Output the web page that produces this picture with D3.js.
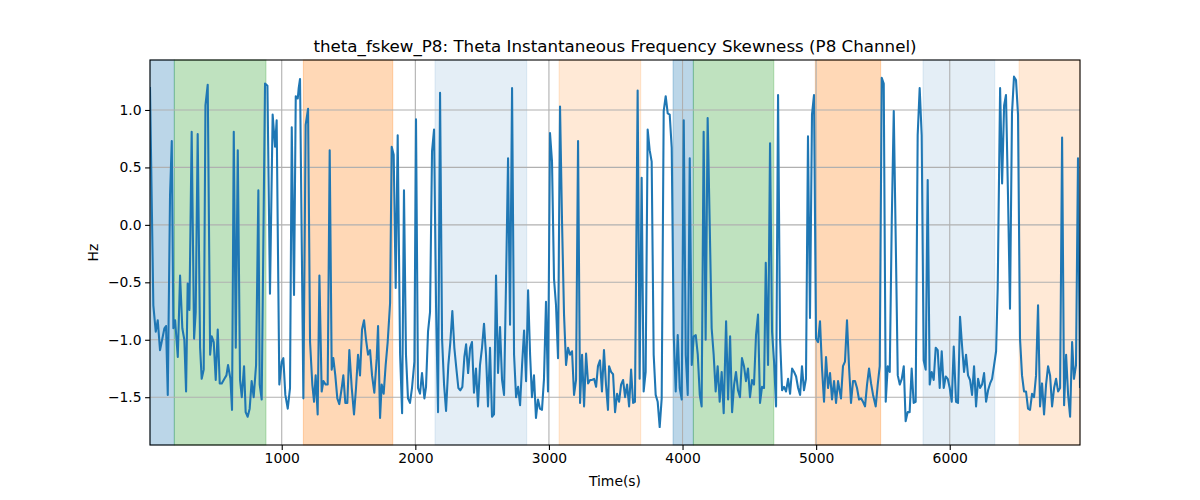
<!DOCTYPE html>
<html><head><meta charset="utf-8">
<script src="https://cdn.jsdelivr.net/npm/d3@7"></script>
<style>body{margin:0;background:#fff;} text{font-family:"DejaVu Sans",sans-serif;}</style>
</head><body>
<svg id="c" width="1200" height="500"></svg>
<script>
const times = [14,39,57,72,89,122,134,147,164,177,189,202,222,239,256,271,284,296,309,326,344,356,371,389,401,416,429,446,464,476,491,506,521,536,551,571,586,598,616,628,641,656,671,688,701,718,730,745,760,775,790,808,825,835,850,
875,893,912,932,950,962,982,1000,1012,1027,1045,1062,1075,1092,1105,1120,1127,1137,1162,1179,1197,1212,1229,1242,1254,1269,1282,1299,1312,1329,1344,1359,1374,1386,1401,1416,1431,1449,1461,1476,1491,1506,1524,1541,1556,1571,1586,1601,1616,1631,1646,1661,1676,1693,1711,1721,1736,
1748,1763,1778,1793,1811,1823,1838,1853,1868,1886,1901,1915,1930,1945,1960,1975,1993,2005,2020,2035,2050,2068,2080,2095,2110,2125,2140,2155,2170,2185,2200,2215,2230,2247,2262,2277,2292,2307,2322,2337,2352,2367,2380,2395,2410,2424,2439,2454,2469,2484,2499,2514,2529,2544,2559,2574,2589,
2604,2619,2634,2649,2664,2679,2694,2709,2724,2739,2754,2769,2784,2799,2814,2829,2844,2859,2873,2888,2903,2918,2933,2948,2963,2978,2993,3008,3023,3038,3053,3068,3083,3098,3113,3128,3143,3158,3173,3188,3203,3218,3233,3248,3263,3278,3293,3308,3323,3338,3353,3367,3382,3397,3412,3427,3442,
3450,3465,3480,3495,3510,3525,3540,3555,3570,3585,3600,3615,3630,3644,3664,3679,3694,3709,3724,3739,3754,3769,3784,3799,3814,3829,3844,3859,3874,3889,3904,3919,3934,3949,3964,3979,3994,4009,4024,4039,4054,4069,4084,4099,4114,4129,4143,4158,4173,4188,4203,4218,4233,4248,4263,4278,4293,4308,
4326,4341,4356,4371,4386,4400,4415,4430,4445,4460,4475,4490,4505,4520,4535,4550,4565,4580,4595,4610,4623,4640,4655,4670,4685,4700,4715,4730,4745,4760,4775,4790,4805,4820,4835,4850,4865,4880,4894,4909,4924,4939,4954,4969,4984,4999,5014,5029,5044,5059,5074,5089,5104,5119,5134,5149,5164,
5186,5201,5216,5231,5246,5261,5276,5291,5306,5321,5336,5351,5366,5381,5396,5411,5426,5446,5461,5476,5491,5506,5521,5536,5551,5566,5581,5596,5611,5626,5641,5656,5670,5685,5700,5715,5730,5745,5760,5775,5790,5805,5820,5835,5850,5865,5880,5895,5910,5925,5940,5955,5970,5985,6000,6015,6030,
6047,6062,6077,6092,6107,6122,6137,6152,6167,6182,6197,6212,6227,6242,6257,6272,6287,6302,6317,6332,6347,6359,6377,6392,6407,6421,6436,6451,6466,6481,6496,6511,6526,6541,6556,6571,6586,6601,6616,6631,6646,6661,6676,6691,6706,6721,6736,6751,6766,6781,6796,6811,6826,6841,6856,6871,6886,6901,6916,6930,6945,6960,6975];
const values = [1.19,-0.70,-0.93,-0.83,-1.09,-0.90,-0.88,-1.48,0.26,0.73,-0.90,-0.83,-1.15,-0.44,-0.90,-1.00,-1.45,-0.51,-0.74,0.81,-0.99,-0.76,0.79,-1.07,-1.34,-1.26,1.04,1.22,-1.13,-0.97,-1.02,-1.35,-0.91,-1.38,-1.38,-1.34,-1.31,-1.22,-1.34,-1.61,0.81,-1.07,0.65,-1.35,-1.50,-1.23,-1.63,-1.67,-1.60,-1.36,-1.50,-1.22,0.30,-1.39,-1.52,
1.23,1.21,-0.60,0.96,0.68,0.91,-1.39,-1.19,-1.16,-1.48,-1.60,-1.42,0.85,-0.61,1.12,1.10,1.19,1.27,-1.51,0.87,1.01,-1.02,-1.39,-1.54,-1.31,-1.65,-0.44,-1.45,-1.36,-1.39,-1.39,0.65,-1.26,-1.16,-1.31,-1.51,-1.56,-1.42,-1.31,-1.55,-1.55,-1.09,-1.42,-1.65,-1.42,-1.13,-1.31,-0.91,-0.83,-1.00,-1.13,-1.09,-1.31,-1.46,-1.16,-0.88,-1.68,
-1.39,-1.47,-1.22,-1.02,-0.68,0.68,0.61,-0.55,0.78,-1.13,-1.64,0.30,-1.13,-1.51,-1.55,-1.42,-1.19,0.92,-1.42,-1.47,-1.29,-1.51,-1.41,-0.93,-0.76,0.64,0.83,-0.70,-1.63,1.15,-0.99,-1.39,-1.62,-1.22,-1.02,-0.75,-1.07,-1.25,-1.42,-1.44,-1.41,-1.15,-1.04,-1.29,-1.07,-1.02,-1.46,-1.25,-1.58,-1.22,-1.07,-0.86,-1.13,-1.58,-1.07,-1.67,-1.65,
-0.44,-1.29,-0.89,-1.35,-1.48,-0.49,0.58,-0.87,1.19,-1.13,-1.50,-1.41,-1.57,-1.22,-0.92,-1.36,-0.57,-1.13,-1.50,-1.31,-1.68,-1.52,-1.60,-1.61,-1.34,-0.67,-1.45,0.80,0.55,-0.47,-0.70,-1.16,1.03,0.03,-0.78,-1.22,-1.07,-1.13,-1.10,-1.48,-1.35,0.73,-1.55,-1.13,-1.58,-1.12,-1.38,-1.35,-1.35,-1.34,-1.41,-1.23,-1.18,-1.45,-1.09,-1.39,-1.61,
-1.23,-1.28,-1.30,-1.63,-1.47,-1.54,-1.39,-1.35,-1.50,-1.39,-1.58,-1.26,-1.55,-1.54,1.17,-1.34,0.41,-1.45,-1.28,0.83,0.65,0.55,-1.13,-1.48,-1.54,-1.76,-1.51,0.99,1.12,0.97,0.96,0.67,-0.96,-1.45,-0.96,-1.42,-1.52,0.91,-1.13,-1.48,0.58,-1.22,-0.97,-0.96,-1.13,-1.48,-1.58,0.81,-1.00,0.93,0.03,-0.90,-1.13,-1.45,-1.23,-1.54,-1.28,-1.64,
-0.84,-1.52,-0.97,-1.63,-1.39,-1.28,-1.44,-1.50,-1.16,-1.23,-1.36,-1.25,-1.50,-1.35,-1.39,-0.96,-0.78,-1.55,-1.41,-1.42,-0.33,-1.22,0.71,-0.93,-1.19,-1.58,1.13,-0.99,-1.44,-1.41,-1.45,-1.34,-1.47,-1.25,-1.28,-1.32,-1.42,-1.48,-1.23,-1.44,-1.34,0.77,-0.81,0.96,1.13,-0.99,-1.02,-0.84,-1.25,-1.54,-1.15,-1.42,-1.29,-1.52,-1.36,-1.55,-1.36,
-1.51,-1.23,-1.19,-0.83,-1.23,-1.55,-1.36,-1.36,-1.42,-1.52,-1.51,-1.54,-1.58,-1.39,-1.25,-1.38,-1.48,-1.58,-1.39,-1.23,1.28,1.23,-1.54,-1.23,-1.28,0.03,0.99,-0.15,-1.31,-1.39,-1.34,-1.23,-1.71,-1.63,-1.63,-1.25,-1.55,-1.54,0.78,1.19,0.78,-1.18,-1.26,0.39,-1.39,-1.28,-1.35,-1.07,-1.09,-1.42,-1.10,-1.42,-1.32,-1.34,-1.42,-1.54,-1.06,
-1.54,-1.55,-0.80,-1.05,-1.28,-1.13,-1.31,-1.35,-1.48,-1.23,-1.58,-1.34,-1.42,-1.39,-1.29,-1.54,-1.44,-1.38,-1.34,-1.22,-1.10,-0.55,1.19,0.36,1.04,1.13,0.26,-0.73,0.97,1.29,1.26,0.96,-0.99,-1.31,-1.45,-1.45,-1.60,-1.61,-1.47,-1.50,-1.31,-0.70,-1.58,-1.38,-1.65,-1.39,-1.23,-1.31,-1.58,-1.42,-1.34,-1.45,-1.42,0.76,-1.57,-1.13,-1.48,-1.67,-1.02,-1.34,-1.22,0.58,-1.41];
const spanStarts = [14,196,1162,2147,3076,3929,4081,4994,5800,6519];
const spanEnds = [196,882,1831,2834,3687,4081,4683,5483,6337,6975];
const spanColors = ["#1f77b4","#2ca02c","#ff7f0e","#1f77b4","#ff7f0e","#1f77b4","#2ca02c","#ff7f0e","#1f77b4","#ff7f0e"];
const spanAlphas = [0.3,0.3,0.3,0.12,0.17,0.3,0.3,0.3,0.12,0.17];
const xTicks = [1000,2000,3000,4000,5000,6000];
const yTicks = [-1.5,-1.0,-0.5,0.0,0.5,1.0];
const titleText = "theta_fskew_P8: Theta Instantaneous Frequency Skewness (P8 Channel)";

const svg = d3.select("#c");
const L = 150, R = 1080, T = 60, B = 445;
const x = d3.scaleLinear().domain([14, 6975]).range([L, R]);
const y = d3.scaleLinear().domain([-1.916, 1.435]).range([B, T]);

const g = svg.append("g");
g.append("defs").append("clipPath").attr("id","clip").append("rect").attr("x",L).attr("y",T).attr("width",R-L).attr("height",B-T);

const spans = spanStarts.map((s,i)=>({s, e: spanEnds[i], c: spanColors[i], a: spanAlphas[i]}));
g.append("g").selectAll("rect").data(spans).join("rect")
  .attr("x", d=>x(d.s)).attr("width", d=>x(d.e)-x(d.s))
  .attr("y", T).attr("height", B-T)
  .attr("fill", d=>d.c).attr("fill-opacity", d=>d.a)
  .attr("stroke", d=>d.c).attr("stroke-opacity", d=>d.a).attr("stroke-width",1);

// grid
const grid = g.append("g").attr("stroke","#b0b0b0").attr("stroke-width",1.1);
grid.selectAll(".gx").data(xTicks).join("line").attr("x1",d=>x(d)).attr("x2",d=>x(d)).attr("y1",T).attr("y2",B);
grid.selectAll(".gy").data(yTicks).join("line").attr("y1",d=>y(d)).attr("y2",d=>y(d)).attr("x1",L).attr("x2",R);

const pts = times.map((t,i)=>[t, values[i]]);
g.append("path").datum(pts).attr("clip-path","url(#clip)")
  .attr("fill","none").attr("stroke","#1f77b4").attr("stroke-width",2.08).attr("stroke-linejoin","round").attr("stroke-linecap","square")
  .attr("d", d3.line().x(d=>x(d[0])).y(d=>y(d[1])));

// axes
const fmtY = d => d3.format(".1f")(d).replace("-","\u2212");
const xa = g.append("g").attr("transform",`translate(0,${B})`).call(d3.axisBottom(x).tickValues(xTicks).tickSize(4.9).tickPadding(3.5).tickFormat(d3.format("d")));
const ya = g.append("g").attr("transform",`translate(${L},0)`).call(d3.axisLeft(y).tickValues(yTicks).tickSize(4.9).tickPadding(3.5).tickFormat(fmtY));
[xa,ya].forEach(a=>{a.select(".domain").remove(); a.selectAll("line").attr("stroke","#000").attr("stroke-width",1.1);
  a.selectAll("text").attr("font-size","13.9px").attr("fill","#000").style("font-family","DejaVu Sans");});
g.append("rect").attr("x",L).attr("y",T).attr("width",R-L).attr("height",B-T).attr("fill","none").attr("stroke","#000").attr("stroke-width",1.1);

g.append("text").attr("x",(L+R)/2).attr("y",52).attr("text-anchor","middle").attr("font-size","16.7px").text(titleText);
g.append("text").attr("x",(L+R)/2).attr("y",486).attr("text-anchor","middle").attr("font-size","13.9px").text("Time(s)");
g.append("text").attr("transform",`translate(98,${(T+B)/2}) rotate(-90)`).attr("text-anchor","middle").attr("font-size","13.9px").text("Hz");
</script>
</body></html>
